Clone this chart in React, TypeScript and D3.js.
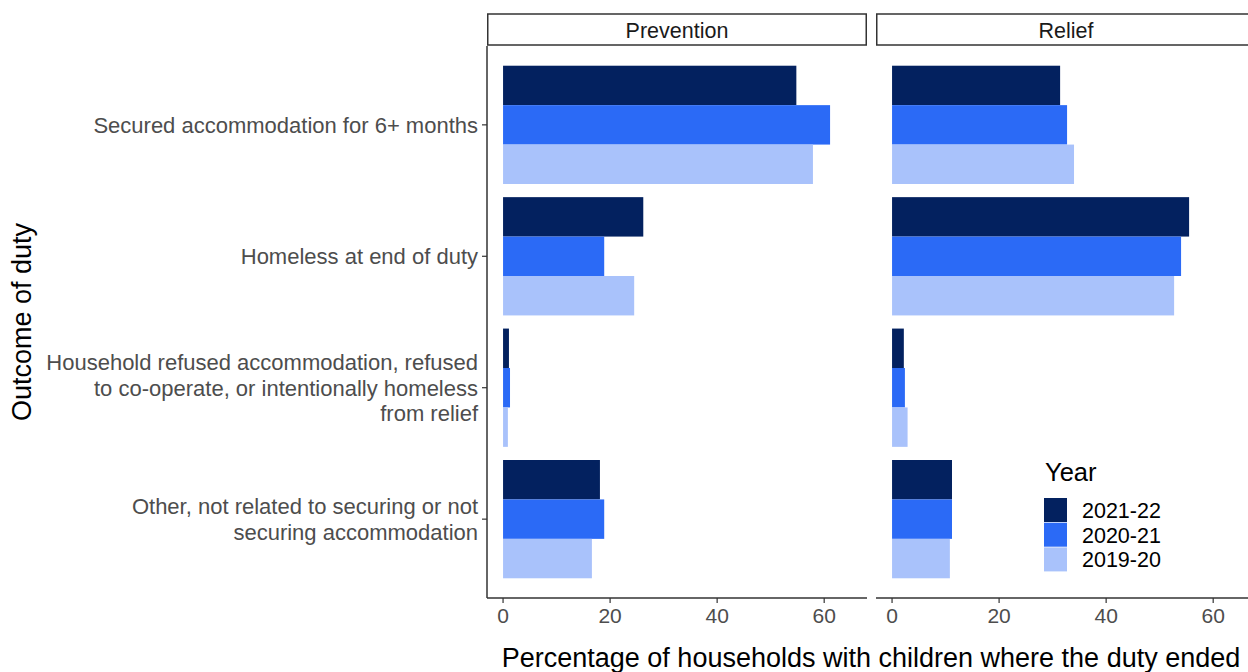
import React from "react";
import * as d3 from "d3";

const outcomes = [
  ["Secured accommodation for 6+ months"],
  ["Homeless at end of duty"],
  ["Household refused accommodation, refused", "to co-operate, or intentionally homeless", "from relief"],
  ["Other, not related to securing or not", "securing accommodation"],
];
const outcomeKeys = ["secured", "homeless", "refused", "other"];
const years = ["2021-22", "2020-21", "2019-20"];
const colors = ["#03215f", "#2b6af6", "#a9c2fb"];
const panels = ["Prevention", "Relief"];

// values per year, in outcome order
const prevention2122 = [54.8, 26.2, 1.1, 18.1];
const prevention2021 = [61.1, 18.9, 1.3, 18.9];
const prevention1920 = [57.9, 24.5, 0.9, 16.6];
const relief2122 = [31.4, 55.5, 2.2, 11.2];
const relief2021 = [32.7, 54.0, 2.4, 11.2];
const relief1920 = [34.0, 52.7, 2.9, 10.8];

const xTicks = [0, 20, 40, 60];

const FONT = "'Liberation Sans', Arial, sans-serif";

export default function App() {
  const W = 1248, H = 672;
  const panelTop = 46, panelBottom = 598;
  const stripTop = 14;
  const panelX = [
    [487, 867],
    [876, 1256],
  ];
  const data = [
    [prevention2122, prevention2021, prevention1920],
    [relief2122, relief2021, relief1920],
  ];

  const unit = (panelBottom - panelTop) / (outcomeKeys.length - 1 + 1.2);
  const yCenter = d3
    .scalePoint<string>()
    .domain(outcomeKeys)
    .range([panelTop + 0.6 * unit, panelBottom - 0.6 * unit]);
  const groupH = unit * 0.9;
  const yInner = d3.scaleBand<string>().domain(years).range([-groupH / 2, groupH / 2]).padding(0);
  const color = d3.scaleOrdinal<string, string>().domain(years).range(colors);

  return (
    <div style={{ position: "absolute", left: 0, top: 0 }}>
      <svg width={W} height={H} style={{ display: "block", fontFamily: FONT }}>
        <rect width={W} height={H} fill="#fff" />
        {panels.map((p, pi) => {
          const [x0, x1] = panelX[pi];
          const x = d3.scaleLinear().domain([-3, 68]).range([x0, x1]);
          return (
            <g key={p}>
              <rect x={x0 + 0.75} y={stripTop} width={x1 - x0 - 1.5} height={panelTop - stripTop - 1} fill="#fff" stroke="#333" strokeWidth={1.5} />
              <text x={(x0 + x1) / 2 - (pi === 1 ? 0 : 0)} y={38} textAnchor="middle" fontSize={21.5} fill="#1a1a1a">
                {p}
              </text>
              {outcomeKeys.map((k, oi) =>
                years.map((yr, yi) => {
                  const v = data[pi][yi][oi];
                  const cy = yCenter(k)!;
                  return (
                    <rect
                      key={k + yr}
                      x={x(0)}
                      y={cy + yInner(yr)!}
                      width={x(v) - x(0)}
                      height={yInner.bandwidth()}
                      fill={color(yr)}
                    />
                  );
                })
              )}
              <line x1={x0} x2={x1} y1={panelBottom} y2={panelBottom} stroke="#333" strokeWidth={1.5} />
              {xTicks.map((t) => (
                <g key={t}>
                  <line x1={x(t)} x2={x(t)} y1={panelBottom} y2={panelBottom + 5} stroke="#333" strokeWidth={1.2} />
                  <text x={x(t)} y={623} textAnchor="middle" fontSize={21} fill="#4d4d4d">
                    {t}
                  </text>
                </g>
              ))}
              {pi === 0 && (
                <g>
                  <line x1={x0} x2={x0} y1={panelTop} y2={panelBottom} stroke="#333" strokeWidth={1.5} />
                  {outcomeKeys.map((k, oi) => {
                    const cy = yCenter(k)!;
                    const lines = outcomes[oi];
                    const lh = 25.5;
                    return (
                      <g key={k}>
                        <line x1={x0 - 5} x2={x0} y1={cy} y2={cy} stroke="#333" strokeWidth={1.2} />
                        {lines.map((ln, li) => (
                          <text
                            key={li}
                            x={x0 - 9}
                            y={cy + (li - (lines.length - 1) / 2) * lh + 8}
                            textAnchor="end"
                            fontSize={22}
                            fill="#4d4d4d"
                          >
                            {ln}
                          </text>
                        ))}
                      </g>
                    );
                  })}
                </g>
              )}
            </g>
          );
        })}
        <text transform={`translate(31,${(panelTop + panelBottom) / 2}) rotate(-90)`} textAnchor="middle" fontSize={27} fill="#000">
          Outcome of duty
        </text>
        <text x={871} y={667} textAnchor="middle" fontSize={27} fill="#000">
          Percentage of households with children where the duty ended
        </text>
        <text x={1045} y={481} fontSize={25.5} fill="#000">
          Year
        </text>
        {years.map((yr, i) => (
          <g key={yr}>
            <rect x={1044} y={498 + i * 24.7} width={23} height={24} fill={color(yr)} />
            <text x={1082} y={518 + i * 24.5} fontSize={21.5} fill="#000">
              {yr}
            </text>
          </g>
        ))}
      </svg>
    </div>
  );
}
